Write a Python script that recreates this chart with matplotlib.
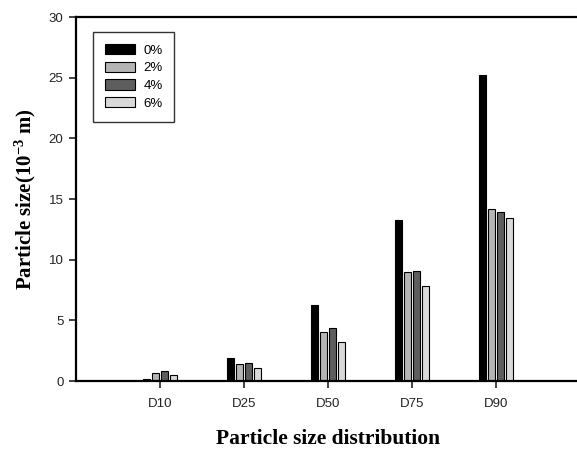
import matplotlib
matplotlib.use("Agg")
import matplotlib.pyplot as plt
import numpy as np

categories = ["D10", "D25", "D50", "D75", "D90"]
series = ["0%", "2%", "4%", "6%"]
v0 = [0.17, 1.87, 6.3, 13.3, 25.2]
v2 = [0.7, 1.37, 4.04, 9.0, 14.2]
v4 = [0.8, 1.48, 4.4, 9.07, 13.9]
v6 = [0.5, 1.1, 3.2, 7.8, 13.4]
colors = ["#000000", "#b4b4b4", "#5e5e5e", "#d9d9d9"]

plt.rcParams["font.family"] = "Liberation Sans"
plt.rcParams["mathtext.fontset"] = "custom"
plt.rcParams["mathtext.rm"] = "Liberation Serif:bold"
plt.rcParams["mathtext.it"] = "Liberation Serif:bold"
plt.rcParams["mathtext.bf"] = "Liberation Serif:bold"

fig = plt.figure(figsize=(5.77, 4.49), dpi=100)
ax = fig.add_axes([76 / 577, 1 - 381 / 449, 504 / 577, 364 / 449])

x = np.arange(1, len(categories) + 1)
pitch = 0.107
width = 0.08
for i, (vals, lab, c) in enumerate(zip([v0, v2, v4, v6], series, colors)):
    ax.bar(x + (i - 1.5) * pitch, vals, width, color=c, edgecolor="black",
           linewidth=0.8, label=lab)

ax.set_xlim(0, 6)
ax.set_ylim(0, 30)
ax.set_yticks(range(0, 31, 5))
ax.set_xticks(x)
ax.set_xticklabels(categories)
ax.tick_params(direction="out", length=5, width=1.2, labelsize=9.5,
               colors="#222222", pad=7)
ax.tick_params(axis="y", pad=4)
for s in ["left", "bottom", "top"]:
    ax.spines[s].set_linewidth(1.6)
ax.spines["right"].set_visible(False)

ax.set_xlabel("Particle size distribution", family="Liberation Serif",
              fontweight="bold", fontsize=15.5, labelpad=14)
ax.set_ylabel(r"Particle size(10$^{-3}$ m)", family="Liberation Serif",
              fontweight="bold", fontsize=15, labelpad=8)

leg = ax.legend(loc="upper left", bbox_to_anchor=(0.034, 0.959),
                borderaxespad=0, fancybox=False, fontsize=9.5,
                handlelength=2.3, handleheight=0.85, labelspacing=0.37,
                borderpad=0.9, handletextpad=0.6)
leg.get_frame().set_edgecolor("black")
leg.get_frame().set_linewidth(1.0)

fig.savefig("out.png", dpi=100)
